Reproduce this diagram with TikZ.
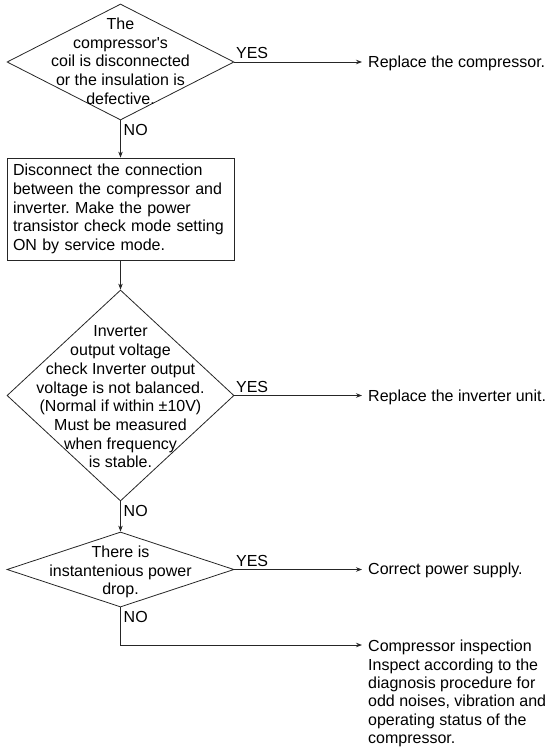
\documentclass[tikz,border=0pt]{standalone}
\usepackage{fontspec}
\setmainfont{Liberation Sans}
\usetikzlibrary{arrows.meta,shapes.geometric}
\newcommand\myfs{\fontsize{16}{18.7}\selectfont}
\frenchspacing
\begin{document}
\begin{tikzpicture}[x=1pt,y=-1pt,
  line/.style={line width=0.8pt, draw=black!85},
  arr/.style={line, -{Stealth[length=6pt,width=4.5pt]}},
  dia/.style={diamond, draw=black!85, line width=0.8pt, inner sep=0pt, minimum width=227pt},
  txt/.style={font=\myfs, inner sep=0pt, align=center},
  yeslab/.style={font=\myfs, anchor=south west, inner xsep=1.5pt, inner ysep=3pt},
  nolab/.style={font=\myfs, anchor=north west, inner xsep=3pt, inner ysep=4pt},
  res/.style={font=\myfs, anchor=west, inner xsep=6pt, inner ysep=0pt, align=left},
  procbox/.style={draw=black!85, line width=0.8pt, rectangle, minimum width=227pt, minimum height=102pt,
     inner xsep=6pt, inner ysep=0pt, text width=215pt, align=left, font=\myfs}]
\useasboundingbox (0,0) rectangle (548,747);

% decision 1
\node[dia, minimum height=116pt] (d1) at (120.5,62) {};
\node[txt] (t1) at (120.5,61) {The\\compressor\textquotesingle s\\coil is disconnected\\or the insulation is\\defective.};
\node[res] (r1) at (362,63) {Replace the compressor.};
\draw[arr] (d1.east) -- (d1.east -| r1.west);
\node[yeslab] (y1) at (d1.east) {YES};
\node[nolab] (n1) at (d1.south) {NO};

% process box
\node[procbox] (b1) at (120.5,209) {Disconnect the connection\\between the compressor and\\inverter. Make the power\\transistor check mode setting\\ON by service mode.};
\draw[arr] (d1.south) -- (b1.north);

% decision 2
\node[dia, minimum height=211pt] (d2) at (120.5,395.5) {};
\node[txt] (t2) at (120.5,397) {Inverter\\output voltage\\check Inverter output\\voltage is not balanced.\\(Normal if within ±10V)\\Must be measured\\when frequency\\is stable.};
\draw[arr] (b1.south) -- (d2.north);
\node[res] (r2) at (362,397) {Replace the inverter unit.};
\draw[arr] (d2.east) -- (d2.east -| r2.west);
\node[yeslab] (y2) at (d2.east) {YES};
\node[nolab] (n2) at (d2.south) {NO};

% decision 3
\node[dia, minimum height=75pt] (d3) at (120.5,569.5) {};
\node[txt] (t3) at (120.5,572) {There is\\instantenious power\\drop.};
\draw[arr] (d2.south) -- (d3.north);
\node[res] (r3) at (362,570) {Correct power supply.};
\draw[arr] (d3.east) -- (d3.east -| r3.west);
\node[yeslab] (y3) at (d3.east) {YES};
\node[nolab] (n3) at (d3.south) {NO};

% final
\node[res, anchor=north west, font=\fontsize{16}{18.3}\selectfont] (r4) at (362,640) {Compressor inspection\\Inspect according to the\\diagnosis procedure for\\odd noises, vibration and\\operating status of the\\compressor.};
\coordinate (e4) at (362,645);
\draw[arr] (d3.south) |- (e4);
\end{tikzpicture}
\end{document}
